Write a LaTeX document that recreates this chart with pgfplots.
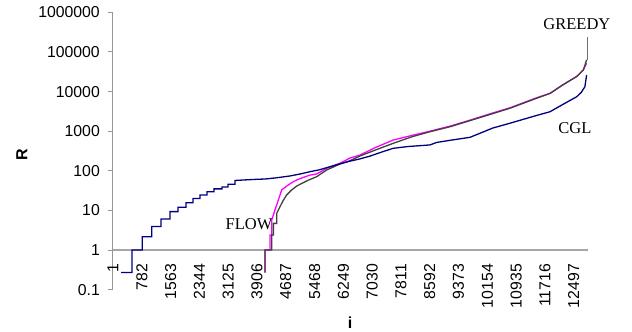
\documentclass[border=0pt]{standalone}
\usepackage{fontspec}
\setmainfont{Liberation Sans}
\newfontfamily\seriffont{Liberation Serif}
\usepackage{pgfplots}
\pgfplotsset{compat=1.18}
\definecolor{cgl}{RGB}{0,0,128}
\definecolor{flow}{RGB}{255,0,255}
\definecolor{greedy}{RGB}{64,64,64}
\definecolor{spike}{RGB}{110,110,110}
\definecolor{axisgray}{RGB}{150,150,150}
\begin{document}
\begin{tikzpicture}
\useasboundingbox (-113pt,-42.4pt) rectangle (519pt,289.6pt);
\begin{axis}[
  at={(0pt,0pt)}, anchor=south west,
  scale only axis, width=475pt, height=277.2pt,
  ymode=log, ymin=0.1, ymax=1000000,
  xmin=0, xmax=12885,
  axis x line=none, axis y line=left,
  axis line style={draw=axisgray, line width=1pt, -},
  yminorticks=false, xminorticks=false,
  scaled x ticks=false,
  ytick={0.1,1,10,100,1000,10000,100000,1000000},
  yticklabels={0.1,1,10,100,1000,10000,100000,1000000},
  ytick style={draw=axisgray, line width=1pt},
  tick align=outside, major tick length=5pt,
  yticklabel style={font=\fontsize{15.8}{18}\selectfont, anchor=east, inner sep=0pt, xshift=-8pt},
  ylabel={\textbf{R}},
  every axis y label/.style={at={(axis description cs:-0.1916,0.4856)}, rotate=90, anchor=center, font=\fontsize{16}{19}\selectfont},
  clip=false,
]
\draw[black!35, line width=1.4pt] (rel axis cs:0,0.142857) -- (rel axis cs:1,0.142857);
\addplot[flow, line width=1.3pt] coordinates {
(4123,0.27) (4123,1) (4259,1) (4259,2.4) (4305,2.4) (4305,5.7) (4395,10.3) (4484,18) (4576,33)
(4666,38) (4755,44) (4891,53) (5026,61) (5162,68) (5344,78) (5525,83) (5796,116) (6157,155)
(6428,210) (6700,250) (7100,380) (7603,600) (8100,780) (8598,1000) (9150,1350) (9683,1900)
(10200,2700) (10768,3900) (11492,7000) (11853,9000) (12213,15000) (12576,24000) (12757,35000) (12847,52000)
};
\addplot[greedy, line width=1.3pt] coordinates {
(4123,0.27) (4123,1) (4305,1) (4305,2.4) (4350,2.4) (4350,4.7) (4440,4.7) (4440,8.4) (4530,12.4)
(4620,18) (4710,24.5) (4850,33) (4980,41) (5120,48) (5300,58) (5525,71) (5796,105) (6157,148)
(6428,180) (6700,237) (7100,330) (7603,495) (8100,720) (8598,970) (9150,1300) (9683,1850)
(10200,2600) (10768,3800) (11492,6800) (11853,9000) (12213,15000) (12576,24000) (12757,35000) (12847,63000)
};
\addplot[spike, line width=1pt] coordinates {(12847,63000) (12864,63000) (12864,245000)};
\addplot[cgl, line width=1.3pt] coordinates {
(218,0.27) (516,0.27) (516,1) (796,1) (796,2.17) (1050,2.17) (1050,3.9) (1303,3.9) (1303,6.1)
(1547,6.1) (1547,9.3) (1764,9.3) (1764,12) (1981,12) (1981,15.6) (2171,15.6) (2171,20) (2360,20)
(2360,24.5) (2550,24.5) (2550,29.7) (2740,29.7) (2740,35) (2957,35) (2957,39) (3120,39) (3120,46)
(3310,46) (3310,57) (3600,59) (3900,61) (4123,62) (4400,66) (4801,74) (5100,84) (5344,95)
(5600,106) (5796,120) (6100,145) (6428,175) (6700,200) (6971,235) (7300,300) (7603,370)
(8000,410) (8598,450) (8780,520) (9200,600) (9683,700) (10300,1200) (10768,1590) (11492,2500)
(11853,3100) (12213,4800) (12576,7400) (12700,9500) (12801,13300) (12847,26300)
};
\foreach \t in {1,782,1563,2344,3125,3906,4687,5468,6249,7030,7811,8592,9373,10154,10935,11716,12497}{
  \edef\tmp{\noexpand\node[font=\noexpand\fontsize{15.8}{18}\noexpand\selectfont, rotate=90, anchor=east, inner xsep=14pt, inner ysep=0pt] at (axis cs:\t,1) {\t};}
  \tmp
}
\node[font=\bfseries\fontsize{16}{19}\selectfont] at (axis description cs:0.499,-0.1205) {i};
\node[font=\seriffont\fontsize{16.5}{19}\selectfont] at (axis cs:12585,509000) {GREEDY};
\node[font=\seriffont\fontsize{16.5}{19}\selectfont] at (axis cs:12530,1200) {CGL};
\node[font=\seriffont\fontsize{16.5}{19}\selectfont] at (axis cs:3690,4.5) {FLOW};
\end{axis}
\end{tikzpicture}
\end{document}
